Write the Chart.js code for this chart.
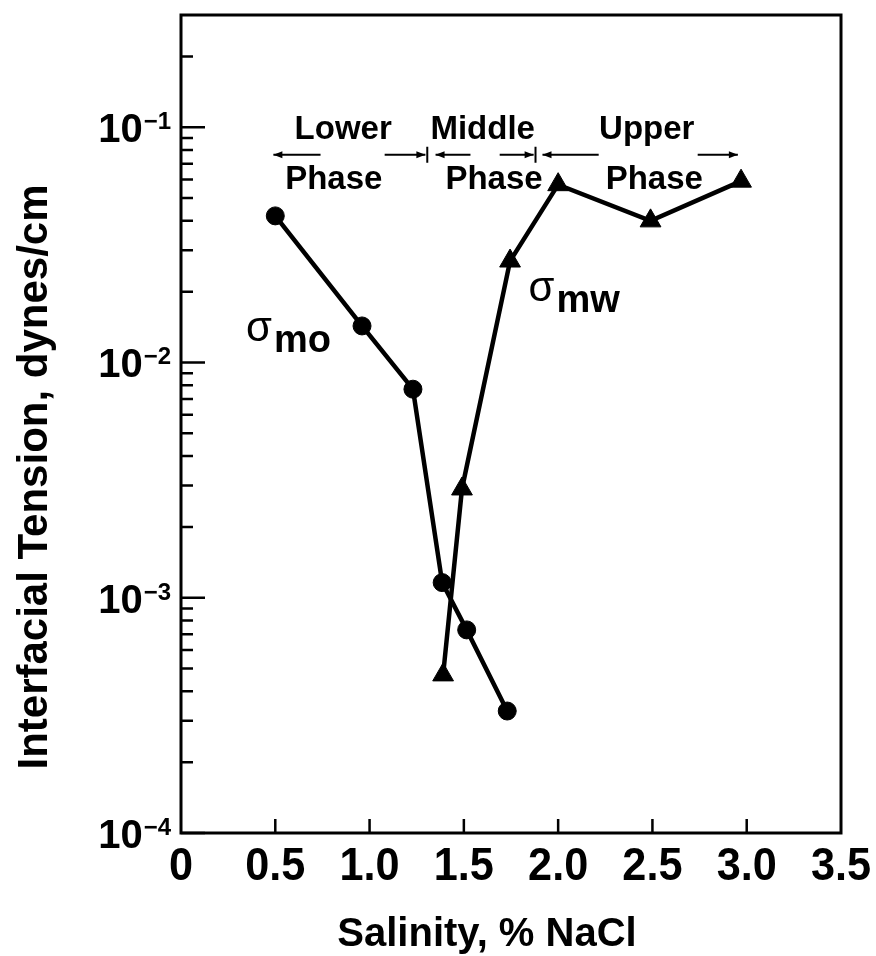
<!DOCTYPE html>
<html>
<head>
<meta charset="utf-8">
<title>Interfacial Tension vs Salinity</title>
<script src="https://cdn.jsdelivr.net/npm/chart.js@4.4.1/dist/chart.umd.min.js"></script>
<style>
  html, body { margin: 0; padding: 0; background: #fff; }
  #wrap { width: 876px; height: 956px; }
</style>
</head>
<body>
<div id="wrap"><canvas id="itChart" width="876" height="956"></canvas></div>
<script>
// salinity (% NaCl) against interfacial tension (dynes/cm)
const moSalinity = [0.5, 0.96, 1.23, 1.385, 1.515, 1.73];
const moTension = [0.042, 0.0143, 0.0077, 0.00116, 0.00073, 0.00033];
const mwSalinity = [1.39, 1.49, 1.745, 2.0, 2.49, 2.97];
const mwTension = [0.00047, 0.0029, 0.027, 0.057, 0.04, 0.059];

const xTicks = [0, 0.5, 1.0, 1.5, 2.0, 2.5, 3.0, 3.5];
const xTickLabels = ['0', '0.5', '1.0', '1.5', '2.0', '2.5', '3.0', '3.5'];
const yDecades = [1e-4, 1e-3, 1e-2, 1e-1];
const yExponents = ['\u22124', '\u22123', '\u22122', '\u22121'];

// phase regions written along the top
const phaseNames = ['Lower', 'Middle', 'Upper'];
const phaseNameX = [0.86, 1.6, 2.47];
const phaseWordX = [0.81, 1.66, 2.51];
const phaseBounds = [1.306, 1.88];
const arrowFrom = [0.74, 1.08, 1.535, 1.69, 2.215, 2.74];
const arrowTo = [0.49, 1.296, 1.35, 1.87, 1.917, 2.953];
const nameLevel = 0.0892;
const wordLevel = 0.0546;
const arrowLevel = 0.0764;

// curve labels (sigma with subscript)
const curveLabelX = [0.345, 1.843];
const curveLabelY = [0.0123, 0.0182];
const curveLabelSub = ['mo', 'mw'];

const FONT = '"Liberation Sans", Arial, Helvetica, sans-serif';

function drawArrow(ctx, x1, x2, y) {
    const dir = x2 > x1 ? 1 : -1;
    ctx.beginPath();
    ctx.moveTo(x1, y);
    ctx.lineTo(x2, y);
    ctx.stroke();
    ctx.beginPath();
    ctx.moveTo(x2, y);
    ctx.lineTo(x2 - dir * 9, y - 3.5);
    ctx.lineTo(x2 - dir * 9, y + 3.5);
    ctx.closePath();
    ctx.fill();
}

const framePlugin = {
    id: 'frame',
    afterDraw(chart) {
        const ctx = chart.ctx;
        const area = chart.chartArea;
        const xs = chart.scales.x;
        const ys = chart.scales.y;
        ctx.save();
        ctx.fillStyle = '#000';
        ctx.strokeStyle = '#000';

        // box
        ctx.lineWidth = 3;
        ctx.strokeRect(area.left, area.top, area.right - area.left, area.bottom - area.top);

        // y ticks, inward, with minor ticks per decade
        ctx.lineWidth = 2.5;
        ctx.beginPath();
        yDecades.forEach(d => {
            const py = ys.getPixelForValue(d);
            ctx.moveTo(area.left, py);
            ctx.lineTo(area.left + 24, py);
            for (let m = 2; m <= 9; m++) {
                const v = d * m;
                if (v > ys.max) break;
                const pm = ys.getPixelForValue(v);
                ctx.moveTo(area.left, pm);
                ctx.lineTo(area.left + 12, pm);
            }
        });
        ctx.stroke();

        // x ticks, inward
        ctx.beginPath();
        xTicks.forEach(v => {
            if (v <= xs.min || v >= xs.max) return;
            const px = xs.getPixelForValue(v);
            ctx.moveTo(px, area.bottom);
            ctx.lineTo(px, area.bottom - 14);
        });
        ctx.stroke();

        // x tick labels, slightly narrowed
        ctx.font = 'bold 47px ' + FONT;
        ctx.textAlign = 'center';
        ctx.textBaseline = 'alphabetic';
        xTicks.forEach((v, i) => {
            ctx.save();
            ctx.translate(xs.getPixelForValue(v), area.bottom + 47);
            ctx.scale(0.92, 1);
            ctx.fillText(xTickLabels[i], 0, 0);
            ctx.restore();
        });

        // y tick labels as 10 with a raised exponent
        yDecades.forEach((d, i) => {
            const py = ys.getPixelForValue(d);
            ctx.font = 'bold 24px ' + FONT;
            ctx.textAlign = 'left';
            const expW = ctx.measureText(yExponents[i]).width;
            const right = area.left - 10;
            ctx.fillText(yExponents[i], right - expW, py + 2);
            ctx.font = 'bold 40px ' + FONT;
            ctx.textAlign = 'right';
            ctx.fillText('10', right - expW - 1, py + 15);
        });

        // axis titles
        ctx.font = 'bold 40px ' + FONT;
        ctx.textAlign = 'center';
        ctx.fillText('Salinity, % NaCl', (area.left + area.right) / 2 - 24, area.bottom + 113);

        ctx.save();
        ctx.translate(47, 477);
        ctx.rotate(-Math.PI / 2);
        ctx.font = 'bold 42px ' + FONT;
        ctx.fillText('Interfacial Tension, dynes/cm', 0, 0);
        ctx.restore();

        // phase names and arrows
        ctx.font = 'bold 33px ' + FONT;
        ctx.textAlign = 'center';
        phaseNames.forEach((name, i) => {
            ctx.fillText(name, xs.getPixelForValue(phaseNameX[i]), ys.getPixelForValue(nameLevel));
            ctx.fillText('Phase', xs.getPixelForValue(phaseWordX[i]), ys.getPixelForValue(wordLevel));
        });
        const ay = ys.getPixelForValue(arrowLevel);
        ctx.lineWidth = 2;
        arrowFrom.forEach((f, i) => {
            drawArrow(ctx, xs.getPixelForValue(f), xs.getPixelForValue(arrowTo[i]), ay);
        });
        ctx.beginPath();
        phaseBounds.forEach(b => {
            const bx = xs.getPixelForValue(b);
            ctx.moveTo(bx, ay - 8);
            ctx.lineTo(bx, ay + 8);
        });
        ctx.stroke();

        // sigma labels on the curves
        curveLabelX.forEach((v, i) => {
            const lx = xs.getPixelForValue(v);
            const ly = ys.getPixelForValue(curveLabelY[i]);
            ctx.textAlign = 'left';
            ctx.font = '42px ' + FONT;
            ctx.fillText('\u03C3', lx, ly);
            const sw = ctx.measureText('\u03C3').width;
            ctx.font = 'bold 38px ' + FONT;
            ctx.fillText(curveLabelSub[i], lx + sw + 2, ly + 11);
        });

        ctx.restore();
    }
};

const ctx = document.getElementById('itChart').getContext('2d');
new Chart(ctx, {
    type: 'scatter',
    data: {
        datasets: [
            {
                label: 'mo',
                data: moSalinity.map((s, i) => ({ x: s, y: moTension[i] })),
                showLine: true,
                borderColor: '#000',
                backgroundColor: '#000',
                borderWidth: 4.5,
                pointStyle: 'circle',
                pointRadius: 9,
                pointBorderWidth: 1,
                tension: 0
            },
            {
                label: 'mw',
                data: mwSalinity.map((s, i) => ({ x: s, y: mwTension[i] })),
                showLine: true,
                borderColor: '#000',
                backgroundColor: '#000',
                borderWidth: 4.5,
                pointStyle: 'triangle',
                pointRadius: 12,
                pointBorderWidth: 1,
                tension: 0
            }
        ]
    },
    options: {
        responsive: false,
        animation: false,
        devicePixelRatio: 1,
        layout: { padding: { left: 181, top: 15, right: 35, bottom: 123 } },
        plugins: {
            legend: { display: false },
            tooltip: { enabled: false }
        },
        scales: {
            x: { type: 'linear', min: 0, max: 3.5, display: false },
            y: { type: 'logarithmic', min: 1e-4, max: 0.3, display: false }
        }
    },
    plugins: [framePlugin]
});
</script>
</body>
</html>
